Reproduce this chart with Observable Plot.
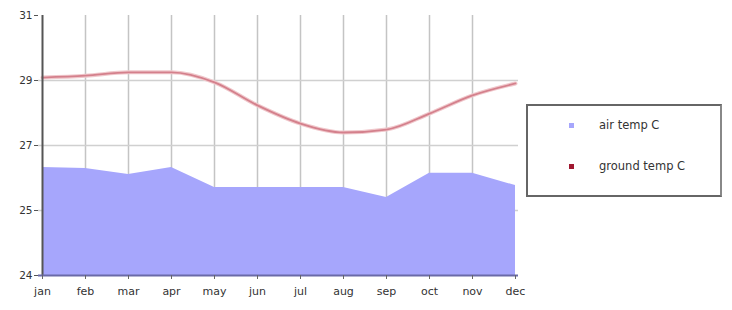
<!DOCTYPE html>
<html>
<head>
<meta charset="utf-8">
<script src="https://cdn.jsdelivr.net/npm/d3@7"></script>
<script src="https://cdn.jsdelivr.net/npm/@observablehq/plot@0.6"></script>
<style>
  body { margin: 0; background: #fff; }
  #wrap { position: relative; width: 732px; height: 310px; }
  .legend {
    position: absolute; left: 526px; top: 104px; width: 196px; height: 93px;
    border: 2px solid #666; border-right-color: #888; box-sizing: border-box; background: #fff;
    font-family: "DejaVu Sans", Verdana, sans-serif; font-size: 11.5px; color: #333;
  }
  .legend .item { position: absolute; left: 41px; display: flex; align-items: center; }
  .legend .sw { width: 5px; height: 5px; margin-right: 25px; }
</style>
</head>
<body>
<div id="wrap"></div>
<script>
const months = ["jan","feb","mar","apr","may","jun","jul","aug","sep","oct","nov","dec"];
const airTemp = [26.91, 26.88, 26.72, 26.91, 26.37, 26.37, 26.37, 26.37, 26.10, 26.75, 26.75, 26.42];
const groundTemp = [29.33, 29.38, 29.47, 29.47, 29.20, 28.58, 28.09, 27.85, 27.93, 28.36, 28.85, 29.17];
const yTicks = [24, 25.75, 27.5, 29.25, 31];
const seriesNames = ["air temp C", "ground temp C"];
const seriesColors = ["#a6a6fc", "#a01830"];

const data = months.map((m, i) => ({month: m, air: airTemp[i], ground: groundTemp[i]}));
const innerMonths = months.slice(1, -1);
const innerYTicks = yTicks.slice(1, -1);

const chart = Plot.plot({
  width: 732,
  height: 310,
  marginLeft: 38,
  marginRight: 214,
  marginTop: 15,
  marginBottom: 35,
  style: {fontFamily: "DejaVu Sans, Verdana, sans-serif", fontSize: "10px", color: "#444", background: "#fff"},
  x: {type: "point", domain: months, padding: 0, label: null},
  y: {domain: [24, 31], label: null},
  marks: [
    Plot.gridX(innerMonths, {stroke: "#c4c4c4", strokeOpacity: 1, strokeWidth: 1.5}),
    Plot.gridY(innerYTicks, {stroke: "#d0d0d0", strokeOpacity: 1, strokeWidth: 1.5}),
    Plot.areaY(data, {x: "month", y1: () => 24, y2: "air", fill: "#a6a6fc", fillOpacity: 1}),
    Plot.line(data, {x: "month", y: "ground", stroke: "#f0c8cc", strokeWidth: 4, curve: "monotone-x"}),
    Plot.line(data, {x: "month", y: "ground", stroke: "#d4808c", strokeWidth: 1.8, curve: "monotone-x"}),
    Plot.ruleX([months[0]], {stroke: "#555", strokeWidth: 2, y1: 24, y2: 31}),
    Plot.ruleY([24], {stroke: "#6a6aa8", strokeWidth: 2}),
    Plot.axisX({tickSize: 4, tickPadding: 8, stroke: "#666", fontSize: 11, fill: "#333"}),
    Plot.axisY({ticks: yTicks, tickFormat: d => String(Math.floor(d)), tickSize: 4, tickPadding: 2, stroke: "#555", fontSize: 10.5, fill: "#333"})
  ]
});

const wrap = document.getElementById("wrap");
wrap.appendChild(chart);

const legend = document.createElement("div");
legend.className = "legend";
seriesNames.forEach((name, i) => {
  const item = document.createElement("div");
  item.className = "item";
  item.style.top = (i === 0 ? 12 : 53) + "px";
  const sw = document.createElement("span");
  sw.className = "sw";
  sw.style.background = seriesColors[i];
  const t = document.createElement("span");
  t.textContent = name;
  item.appendChild(sw);
  item.appendChild(t);
  legend.appendChild(item);
});
wrap.appendChild(legend);
</script>
</body>
</html>
